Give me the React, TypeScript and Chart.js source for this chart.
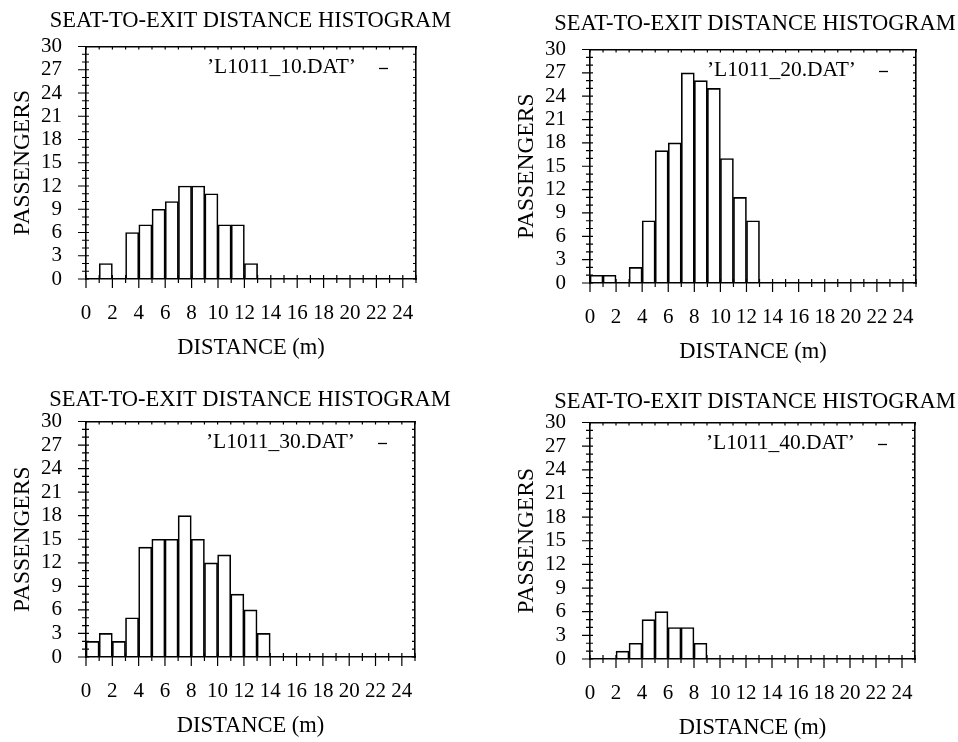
import React, { useEffect, useRef } from "react";
import { Chart, registerables } from "chart.js";

Chart.register(...registerables);

// ---------- data ----------
const BIN_START = [0, 1, 2, 3, 4, 5, 6, 7, 8, 9, 10, 11, 12, 13, 14, 15, 16, 17, 18, 19, 20, 21, 22, 23, 24];
const L1011_10 = [0, 2, 0, 6, 7, 9, 10, 12, 12, 11, 7, 7, 2, 0, 0, 0, 0, 0, 0, 0, 0, 0, 0, 0, 0];
const L1011_20 = [1, 1, 0, 2, 8, 17, 18, 27, 26, 25, 16, 11, 8, 0, 0, 0, 0, 0, 0, 0, 0, 0, 0, 0, 0];
const L1011_30 = [2, 3, 2, 5, 14, 15, 15, 18, 15, 12, 13, 8, 6, 3, 0, 0, 0, 0, 0, 0, 0, 0, 0, 0, 0];
const L1011_40 = [0, 0, 1, 2, 5, 6, 4, 4, 2, 0, 0, 0, 0, 0, 0, 0, 0, 0, 0, 0, 0, 0, 0, 0, 0];
const SERIES_LABELS = ["’L1011_10.DAT’", "’L1011_20.DAT’", "’L1011_30.DAT’", "’L1011_40.DAT’"];
const X_MIN = 0;
const X_MAX = 25;
const X_STEP = 2;
const Y_MIN = 0;
const Y_MAX = 30;
const Y_STEP = 3;
const TITLE = "SEAT-TO-EXIT DISTANCE HISTOGRAM";
const X_TITLE = "DISTANCE (m)";
const Y_TITLE = "PASSENGERS";

const FONT = '"Liberation Serif", "Times New Roman", serif';

type PanelCfg = {
  values: number[];
  label: string;
  left: number;
  top: number;
  width: number;
  height: number;
  yRight: number;
  titleTop: number;
  titleBottom: number;
};

const PANELS: PanelCfg[] = [
  { values: L1011_10, label: SERIES_LABELS[0], left: 0, top: 0, width: 501, height: 359, yRight: 85, titleTop: 10, titleBottom: 14 },
  { values: L1011_20, label: SERIES_LABELS[1], left: 504, top: 0, width: 502, height: 363, yRight: 90, titleTop: 13, titleBottom: 14 },
  { values: L1011_30, label: SERIES_LABELS[2], left: 0, top: 375, width: 500, height: 362, yRight: 85, titleTop: 14, titleBottom: 10 },
  { values: L1011_40, label: SERIES_LABELS[3], left: 504, top: 375, width: 502, height: 364, yRight: 91, titleTop: 16, titleBottom: 9 },
];

const frameTicks = {
  id: "frameTicks",
  afterDraw(chart: any) {
    const { ctx, chartArea, scales } = chart;
    const { left, right, top, bottom } = chartArea;
    const x = scales.x;
    const y = scales.y;
    ctx.save();
    ctx.strokeStyle = "#000";
    ctx.lineWidth = 1.2;
    ctx.beginPath();
    for (let v = X_MIN; v <= X_MAX; v++) {
      const px = x.getPixelForValue(v);
      const major = v % X_STEP === 0;
      ctx.moveTo(px, bottom - 4);
      ctx.lineTo(px, bottom + (major ? 9 : 4));
      ctx.moveTo(px, top);
      ctx.lineTo(px, top + 3);
    }
    for (let v = Y_MIN; v <= Y_MAX; v++) {
      const py = y.getPixelForValue(v);
      const major = v % Y_STEP === 0;
      ctx.moveTo(left - (major ? 8 : 4), py);
      ctx.lineTo(left + 3, py);
      ctx.moveTo(right - 3, py);
      ctx.lineTo(right, py);
    }
    ctx.stroke();

    // key (gnuplot style: text then sample line)
    const label = chart.data.datasets[0].label;
    const ly = top + 21;
    ctx.font = `21.5px ${FONT}`;
    ctx.fillStyle = "#000";
    ctx.textAlign = "right";
    ctx.textBaseline = "middle";
    ctx.fillText(label, right - 60, ly);
    ctx.beginPath();
    ctx.lineWidth = 1.3;
    ctx.moveTo(right - 37, ly + 1);
    ctx.lineTo(right - 28, ly + 1);
    ctx.stroke();
    ctx.restore();
  },
};

function Panel({ cfg }: { cfg: PanelCfg }) {
  const ref = useRef<HTMLCanvasElement | null>(null);
  useEffect(() => {
    if (!ref.current) return;
    const border = { display: true, color: "#000", width: 1.6 };
    const chart = new Chart(ref.current, {
      type: "bar",
      data: {
        datasets: [
          {
            label: cfg.label,
            data: BIN_START.map((b, i) => ({ x: b + 0.5, y: cfg.values[i] })),
            backgroundColor: "rgba(255,255,255,0)",
            borderColor: "#000",
            borderWidth: 1,
            borderSkipped: "start",
            barPercentage: 1,
            categoryPercentage: 1,
            xAxisID: "x",
            yAxisID: "y",
          } as any,
        ],
      },
      plugins: [frameTicks],
      options: {
        animation: false,
        responsive: false,
        maintainAspectRatio: false,
        events: [],
        layout: { padding: 0 },
        plugins: {
          legend: { display: false },
          tooltip: { enabled: false },
          title: {
            display: true,
            text: TITLE,
            color: "#000",
            font: { family: FONT, size: 22.5, weight: "normal", lineHeight: 1 },
            padding: { top: cfg.titleTop, bottom: cfg.titleBottom },
          },
        },
        scales: {
          x: {
            type: "linear",
            position: "bottom",
            min: X_MIN,
            max: X_MAX,
            offset: false,
            grid: { display: false, drawTicks: false, offset: false },
            border,
            ticks: {
              stepSize: X_STEP,
              includeBounds: false,
              autoSkip: false,
              maxRotation: 0,
              padding: 24,
              color: "#000",
              font: { family: FONT, size: 21, lineHeight: 1 },
            },
            title: {
              display: true,
              text: X_TITLE,
              color: "#000",
              font: { family: FONT, size: 22.5, lineHeight: 1 },
              padding: { top: 0, bottom: 0 },
            },
            afterFit: (s: any) => {
              s.height = 80;
            },
          },
          x2: {
            type: "linear",
            position: "top",
            min: X_MIN,
            max: X_MAX,
            grid: { display: false, drawTicks: false },
            border,
            ticks: { display: false },
            afterFit: (s: any) => {
              s.height = 0;
            },
          },
          y: {
            type: "linear",
            position: "left",
            min: Y_MIN,
            max: Y_MAX,
            grid: { display: false, drawTicks: false },
            border,
            ticks: {
              stepSize: Y_STEP,
              autoSkip: false,
              padding: 24,
              color: "#000",
              font: { family: FONT, size: 21, lineHeight: 1 },
            },
            title: {
              display: true,
              text: Y_TITLE,
              color: "#000",
              font: { family: FONT, size: 23.5, lineHeight: 1 },
              padding: { top: 11, bottom: 0 },
            },
            afterFit: (s: any) => {
              s.width = 86;
            },
          },
          y2: {
            type: "linear",
            position: "right",
            min: Y_MIN,
            max: Y_MAX,
            grid: { display: false, drawTicks: false },
            border,
            ticks: { display: false },
            afterFit: (s: any) => {
              s.width = cfg.yRight;
            },
          },
        },
      } as any,
    });
    return () => chart.destroy();
  }, [cfg]);

  return (
    <canvas
      ref={ref}
      width={cfg.width}
      height={cfg.height}
      style={{ position: "absolute", left: cfg.left, top: cfg.top, width: cfg.width, height: cfg.height }}
    />
  );
}

export default function App() {
  return (
    <div
      style={{
        position: "absolute",
        left: 0,
        top: 0,
        width: 958,
        height: 742,
        overflow: "hidden",
        background: "#fff",
      }}
    >
      {PANELS.map((p, i) => (
        <Panel key={i} cfg={p} />
      ))}
    </div>
  );
}
